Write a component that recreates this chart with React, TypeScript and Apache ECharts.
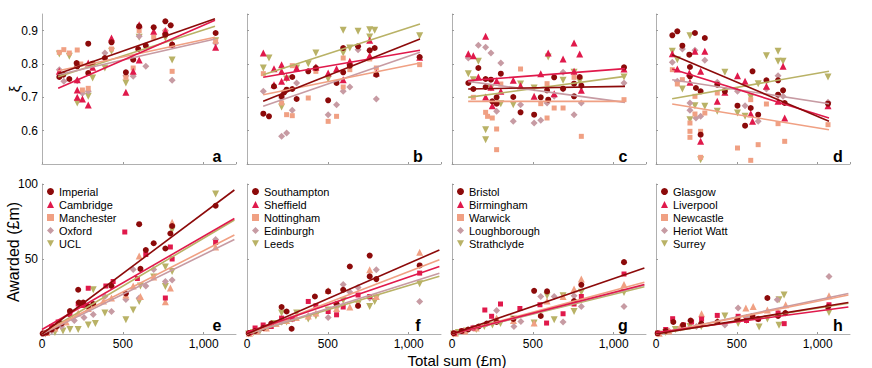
import React, { useEffect, useRef } from 'react';
import * as echarts from 'echarts';

type P = [number, number];

// ---- names (per column) ----
const UNIS_1 = ['Imperial', 'Cambridge', 'Manchester', 'Oxford', 'UCL'];
const UNIS_2 = ['Southampton', 'Sheffield', 'Nottingham', 'Edinburgh', 'Leeds'];
const UNIS_3 = ['Bristol', 'Birmingham', 'Warwick', 'Loughborough', 'Strathclyde'];
const UNIS_4 = ['Glasgow', 'Liverpool', 'Newcastle', 'Heriot Watt', 'Surrey'];

const COLORS = ['#8c0a0a', '#e0194b', '#f0a083', '#c79ba3', '#b9b266'];
const PANEL_LETTERS = ['a', 'b', 'c', 'd', 'e', 'f', 'g', 'h'];
const X_TICKS = [0, 500, 1000];

// ---- top row: xi vs total sum ----
const XI_A: P[][] = [
  [[107,0.761],[132,0.768],[169,0.755],[214,0.803],[218,0.793],[286,0.861],[286,0.773],[313,0.801],[389,0.818],[430,0.865],[519,0.775],[564,0.813],[595,0.845],[601,0.913],[642,0.855],[691,0.91],[763,0.928],[763,0.888],[796,0.916],[805,0.858],[1074,0.893]],
  [[107,0.778],[218,0.753],[218,0.722],[218,0.70],[250,0.695],[286,0.677],[286,0.803],[313,0.79],[430,0.878],[519,0.715],[564,0.778],[601,0.918],[601,0.812],[691,0.898],[763,0.90],[805,0.86],[1074,0.85]],
  [[107,0.835],[135,0.843],[169,0.833],[218,0.842],[240,0.80],[250,0.722],[286,0.727],[313,0.80],[430,0.845],[519,0.76],[564,0.788],[601,0.90],[691,0.88],[763,0.898],[805,0.778],[1074,0.868]],
  [[107,0.783],[135,0.748],[218,0.75],[250,0.712],[286,0.718],[389,0.833],[519,0.765],[564,0.763],[601,0.883],[642,0.793],[763,0.90],[805,0.751],[1074,0.863]],
  [[107,0.83],[169,0.823],[218,0.683],[286,0.703],[313,0.758],[389,0.788],[430,0.838],[519,0.743],[601,0.88],[763,0.878],[805,0.812],[1074,0.87]],
];
const XI_B: P[][] = [
  [[101,0.651],[136,0.643],[167,0.733],[214,0.703],[230,0.715],[245,0.723],[280,0.761],[280,0.725],[307,0.695],[379,0.778],[426,0.788],[502,0.691],[554,0.743],[595,0.775],[595,0.848],[636,0.795],[687,0.853],[759,0.841],[790,0.848],[800,0.768],[1068,0.821]],
  [[101,0.833],[167,0.786],[167,0.738],[214,0.798],[214,0.778],[214,0.748],[245,0.76],[307,0.788],[426,0.79],[502,0.773],[554,0.786],[595,0.753],[636,0.808],[759,0.871],[759,0.825],[800,0.773],[1068,0.82]],
  [[101,0.771],[214,0.683],[245,0.648],[280,0.645],[280,0.795],[379,0.698],[426,0.778],[502,0.628],[554,0.643],[595,0.818],[595,0.731],[636,0.783],[759,0.815],[800,0.788],[1068,0.798]],
  [[101,0.718],[214,0.583],[245,0.593],[280,0.661],[214,0.698],[307,0.743],[426,0.79],[502,0.648],[554,0.678],[595,0.718],[636,0.731],[687,0.843],[800,0.695],[1068,0.82]],
  [[101,0.788],[136,0.818],[214,0.671],[245,0.755],[307,0.788],[379,0.801],[426,0.833],[502,0.755],[595,0.901],[595,0.833],[636,0.848],[687,0.898],[759,0.903],[759,0.881],[790,0.901],[1068,0.885]],
];
const XI_C: P[][] = [
  [[101,0.743],[132,0.725],[163,0.788],[208,0.755],[208,0.731],[241,0.753],[249,0.688],[276,0.681],[276,0.70],[302,0.771],[379,0.701],[424,0.655],[508,0.648],[549,0.70],[588,0.721],[595,0.693],[632,0.76],[687,0.726],[755,0.741],[755,0.703],[790,0.761],[800,0.735],[1064,0.79]],
  [[101,0.831],[132,0.825],[163,0.761],[208,0.883],[208,0.701],[241,0.73],[249,0.675],[276,0.75],[302,0.718],[379,0.751],[424,0.735],[508,0.703],[549,0.771],[595,0.833],[632,0.711],[687,0.815],[755,0.863],[755,0.778],[790,0.83],[800,0.721],[1064,0.785]],
  [[132,0.70],[208,0.655],[220,0.643],[249,0.638],[276,0.543],[276,0.605],[302,0.74],[424,0.785],[549,0.681],[588,0.741],[588,0.638],[632,0.668],[687,0.668],[755,0.76],[800,0.583],[1064,0.693]],
  [[101,0.818],[163,0.856],[208,0.85],[241,0.833],[276,0.658],[302,0.803],[379,0.628],[424,0.678],[508,0.623],[549,0.631],[588,0.683],[632,0.703],[687,0.775],[687,0.725],[755,0.648],[800,0.683],[1064,0.743]],
  [[101,0.771],[132,0.753],[163,0.808],[208,0.603],[208,0.573],[241,0.728],[302,0.681],[379,0.678],[424,0.74],[508,0.728],[595,0.821],[687,0.751],[755,0.775],[790,0.748],[1064,0.761]],
];
const XI_D: P[][] = [
  [[101,0.886],[132,0.898],[163,0.855],[206,0.828],[210,0.791],[210,0.763],[241,0.893],[247,0.728],[276,0.718],[302,0.878],[276,0.588],[379,0.738],[426,0.718],[504,0.675],[551,0.615],[586,0.668],[597,0.778],[632,0.648],[683,0.751],[755,0.751],[755,0.708],[786,0.721],[796,0.683],[1064,0.681]],
  [[101,0.831],[132,0.785],[206,0.773],[210,0.745],[241,0.838],[276,0.778],[276,0.568],[302,0.838],[379,0.688],[426,0.715],[504,0.765],[551,0.748],[586,0.651],[597,0.628],[683,0.733],[755,0.688],[786,0.793],[796,0.638],[1064,0.675]],
  [[101,0.783],[132,0.74],[163,0.753],[210,0.623],[210,0.598],[210,0.58],[241,0.65],[241,0.703],[276,0.598],[276,0.52],[302,0.653],[379,0.713],[426,0.723],[504,0.548],[586,0.693],[586,0.511],[632,0.558],[683,0.68],[755,0.621],[796,0.568],[1064,0.618]],
  [[101,0.805],[132,0.748],[163,0.845],[210,0.683],[210,0.661],[241,0.841],[247,0.638],[276,0.643],[302,0.811],[379,0.745],[504,0.718],[551,0.675],[632,0.628],[683,0.725],[755,0.765],[786,0.703],[1064,0.685]],
  [[101,0.838],[132,0.813],[163,0.725],[210,0.885],[210,0.633],[241,0.675],[276,0.513],[302,0.673],[379,0.658],[426,0.775],[504,0.653],[551,0.643],[586,0.70],[632,0.741],[683,0.825],[755,0.838],[755,0.808],[786,0.808],[1064,0.761]],
];

// fitted lines, top row: [y at FIT_XI_X[0], y at FIT_XI_X[1]]
const FIT_XI_X = [100, 1070];
const FIT_XI_A = [[0.771, 0.936], [0.727, 0.931], [0.78, 0.88], [0.768, 0.875], [0.762, 0.913]];
const FIT_XI_B = [[0.688, 0.875], [0.76, 0.841], [0.708, 0.803], [0.673, 0.835], [0.768, 0.92]];
const FIT_XI_C = [[0.725, 0.733], [0.75, 0.786], [0.688, 0.688], [0.748, 0.685], [0.70, 0.763]];
const FIT_XI_D = [[0.828, 0.628], [0.785, 0.638], [0.68, 0.603], [0.753, 0.681], [0.696, 0.778]];

// ---- bottom row: awarded vs total sum ----
const AW_E: P[][] = [
  [[4,0.3],[29,1],[60,3],[90,5],[121,7],[173,15.3],[224,29.5],[228,21],[255,21],[286,18.4],[317,20],[430,32],[519,27],[601,73.2],[609,43.4],[642,56],[691,60.5],[763,57],[794,67],[805,72],[1074,85.5]],
  [[10,0.5],[60,5],[100,8],[173,13],[224,20],[255,19],[286,30.5],[395,32],[440,35],[512,68],[590,37],[642,53],[763,24],[794,58],[805,50],[1074,61]],
  [[30,1],[80,4],[150,8],[224,14],[286,17],[380,22],[430,24],[519,26],[564,32],[601,52],[609,25],[691,38],[763,21.5],[794,30.6],[805,74.5],[1074,58]],
  [[20,0.5],[60,2],[120,5],[200,9],[260,11],[317,13],[389,25],[430,15],[519,23],[564,43],[601,24],[642,32],[691,43],[763,35],[805,36],[1074,63]],
  [[20,0],[80,1],[130,2],[173,3],[224,3],[286,6],[317,29.5],[330,7],[389,14],[519,9.5],[564,16],[601,21.7],[609,32],[691,38],[763,31.7],[763,44.6],[805,69.4],[805,41.7],[1074,93.3]],
];
const AW_F: P[][] = [
  [[10,0.5],[50,2],[100,4],[150,7],[214,18],[245,15],[276,3.5],[420,25],[502,28.4],[554,20],[595,29.5],[636,45],[687,18.8],[759,52.3],[759,38.4],[800,36.6],[1068,45.7]],
  [[20,1],[50,4],[100,6],[150,5],[214,10.6],[280,10],[379,21.7],[426,18.8],[502,15],[554,12.8],[595,18],[687,26],[759,25],[1068,40.6]],
  [[15,0.5],[60,2],[120,4],[180,7],[245,9],[305,11],[379,12],[426,14],[502,29],[554,17],[636,18],[687,20],[759,42.8],[800,25],[1068,54.5]],
  [[20,0.5],[70,2],[120,4],[214,8],[280,10],[380,12],[502,11],[554,18],[595,33],[636,28],[687,31],[759,24],[800,42.8],[1068,21.7]],
  [[10,0],[40,1],[80,2],[130,4],[167,7],[214,14],[245,8],[307,14],[379,10],[426,12],[502,16],[554,18],[595,22.4],[687,20],[759,18.4],[790,21.7],[800,24],[1068,33.5]],
];
const AW_G: P[][] = [
  [[10,0.5],[60,2],[100,3],[165,5],[215,7],[276,8],[380,10],[508,28.8],[549,12],[588,28.4],[755,22],[800,32.8],[1064,47.9]],
  [[15,0.5],[60,2],[130,4],[203,16],[245,11.8],[300,20],[420,17],[544,19.5],[585,7.3],[687,13.5],[755,20],[800,25],[1064,40]],
  [[20,0.5],[80,2],[150,4],[276,10.6],[380,9],[508,7.3],[588,22],[687,25],[755,30],[800,36.6],[1064,33]],
  [[20,0.5],[70,2],[130,4],[276,15.7],[383,5],[426,8.4],[549,25],[632,25],[687,8],[755,25.5],[800,18.4],[1064,18.4]],
  [[10,0],[40,1],[90,2],[150,3],[200,5],[250,6],[300,7],[380,10],[508,7.3],[588,25.5],[632,9.5],[687,25.5],[755,15],[800,27.9],[1064,27.7]],
];
const AW_H: P[][] = [
  [[10,0.5],[60,2],[107,8],[167,6],[214,9],[280,7],[380,8],[502,10],[597,12],[632,10],[689,24],[755,12],[800,14],[1064,18]],
  [[10,0.5],[60,3],[103,10.2],[170,6],[220,8],[282,10],[379,12.4],[508,11.8],[560,9],[632,10],[755,14],[793,6.9],[1070,19.5]],
  [[20,0.5],[80,2],[150,5],[282,13.5],[380,9],[505,10],[556,17.3],[601,18.4],[689,16],[755,14],[802,19.5],[1070,25.5]],
  [[20,0.5],[80,2],[150,4],[250,5],[426,6],[508,17.3],[560,11],[632,10],[750,22.8],[800,14],[1070,38.4]],
  [[15,0],[60,1],[120,3],[210,5],[280,5],[426,12],[508,7],[560,9],[638,4.7],[689,10],[761,22.8],[761,5.8],[792,26],[1070,14.4]],
];

// fitted lines, bottom row: [y at FIT_AW_X[0], y at FIT_AW_X[1]]
const FIT_AW_X = [0, 1190];
const FIT_AW_E = [[0, 96], [3, 77], [0.5, 66], [0, 63], [0, 76]];
const FIT_AW_F = [[0, 56], [1, 45], [0, 49.5], [0, 40.5], [0, 38.5]];
const FIT_AW_G = [[0, 44], [0, 33], [0, 34.5], [0, 32.5], [0, 31.5]];
const FIT_AW_H = [[0, 21], [1, 18], [0, 26], [0, 27], [0, 20.5]];

const FONT = 'Liberation Sans, Arial, Helvetica, sans-serif';
const INV_TRI = 'path://M0,0L10,0L5,9Z';
const SYMBOLS_TOP = ['circle', 'triangle', 'rect', 'diamond', INV_TRI];
const SYMBOLS_BOT = ['circle', 'rect', 'triangle', 'diamond', INV_TRI];
const SIZES_TOP: any[] = [6, 7, 5, 7, 7];
const SIZES_BOT: any[] = [6, 5, 7, 7, 7];
const LEGEND_ICONS = ['circle', 'triangle', 'rect', 'diamond', INV_TRI];

export default function App() {
  const ref = useRef<HTMLDivElement>(null);

  useEffect(() => {
    if (!ref.current) return;
    const chart = echarts.init(ref.current, null, { renderer: 'svg' });

    const lefts = [42, 247, 452, 656];
    const W = 194;
    const H = 150;
    const tops = [14, 184];
    const names = [UNIS_1, UNIS_2, UNIS_3, UNIS_4];
    const xiData = [XI_A, XI_B, XI_C, XI_D];
    const xiFit = [FIT_XI_A, FIT_XI_B, FIT_XI_C, FIT_XI_D];
    const awData = [AW_E, AW_F, AW_G, AW_H];
    const awFit = [FIT_AW_E, FIT_AW_F, FIT_AW_G, FIT_AW_H];

    const grid: any[] = [];
    const xAxis: any[] = [];
    const yAxis: any[] = [];
    const series: any[] = [];
    const legend: any[] = [];
    const graphic: any[] = [];

    const axisLine = { show: true, lineStyle: { color: '#b0b0b0', width: 1 } };
    const axisTick = { show: true, inside: true, length: 2, lineStyle: { color: '#999' } };

    for (let i = 0; i < 8; i++) {
      const row = i < 4 ? 0 : 1;
      const col = i % 4;
      grid.push({ left: lefts[col], top: tops[row], width: W, height: H, containLabel: false });
      xAxis.push({
        type: 'value', gridIndex: i, min: 0, max: 1200, interval: 500,
        axisLine, axisTick, splitLine: { show: false },
        axisLabel: {
          show: row === 1, fontSize: 12, color: '#000', fontFamily: FONT, margin: 4,
          showMaxLabel: false,
          formatter: (v: number) => (X_TICKS.includes(v) ? v.toLocaleString('en-US') : ''),
        },
      });
      if (row === 0) {
        yAxis.push({
          type: 'value', gridIndex: i, min: 0.5, max: 0.95, interval: 0.1,
          axisLine, axisTick, splitLine: { show: false },
          axisLabel: {
            show: col === 0, fontSize: 12, color: '#000', fontFamily: FONT, margin: 4,
            showMinLabel: false, showMaxLabel: false,
            formatter: (v: number) => v.toFixed(1),
          },
        });
      } else {
        yAxis.push({
          type: 'value', gridIndex: i, min: 0, max: 100, interval: 50,
          axisLine, axisTick, splitLine: { show: false },
          axisLabel: {
            show: col === 0, fontSize: 12, color: '#000', fontFamily: FONT, margin: 4,
            showMinLabel: false,
          },
        });
      }

      const data = row === 0 ? xiData[col] : awData[col];
      const fit = row === 0 ? xiFit[col] : awFit[col];
      const fx = row === 0 ? FIT_XI_X : FIT_AW_X;
      const syms = row === 0 ? SYMBOLS_TOP : SYMBOLS_BOT;
      const sizes = row === 0 ? SIZES_TOP : SIZES_BOT;

      for (let k = 4; k >= 0; k--) {
        series.push({
          type: 'scatter', name: names[col][k], xAxisIndex: i, yAxisIndex: i,
          data: data[k], symbol: syms[k], symbolSize: sizes[k],
          itemStyle: { color: COLORS[k], opacity: 1 }, z: 2, silent: true,
        });
      }
      for (let k = 4; k >= 0; k--) {
        series.push({
          type: 'line', name: 'fit ' + names[col][k], xAxisIndex: i, yAxisIndex: i,
          data: [[fx[0], fit[k][0]], [fx[1], fit[k][1]]],
          showSymbol: false, symbol: 'none', silent: true,
          lineStyle: { color: COLORS[k], width: 1.6 }, z: 3,
        });
      }

      if (row === 1) {
        legend.push({
          orient: 'vertical', left: lefts[col] + 5, top: 186, padding: 0,
          itemGap: 2, itemWidth: 7, itemHeight: 7, selectedMode: false,
          textStyle: { fontSize: 11, color: '#000', fontFamily: FONT },
          data: names[col].map((n, k) => ({ name: n, icon: LEGEND_ICONS[k], itemStyle: { color: COLORS[k] } })),
        });
      }
    }

    const letterPos = [[217, 156], [418, 156], [623, 156], [838, 156], [217, 325], [418, 325], [623, 325], [838, 325]];
    PANEL_LETTERS.forEach((t, i) => {
      graphic.push({
        type: 'text', x: letterPos[i][0], y: letterPos[i][1], silent: true,
        style: { text: t, font: `bold 16px ${FONT}`, fill: '#000', textAlign: 'center', textVerticalAlign: 'middle' },
      });
    });
    graphic.push({
      type: 'text', x: 14, y: 89, rotation: Math.PI / 2, silent: true,
      style: { text: 'ξ', font: `15px ${FONT}`, fill: '#000', textAlign: 'center', textVerticalAlign: 'middle' },
    });
    graphic.push({
      type: 'text', x: 13, y: 252, rotation: Math.PI / 2, silent: true,
      style: { text: 'Awarded (£m)', font: `16px ${FONT}`, fill: '#000', textAlign: 'center', textVerticalAlign: 'middle' },
    });
    graphic.push({
      type: 'text', x: 457, y: 360, silent: true,
      style: { text: 'Total sum (£m)', font: `15px ${FONT}`, fill: '#000', textAlign: 'center', textVerticalAlign: 'middle' },
    });

    chart.setOption({
      animation: false,
      textStyle: { fontFamily: FONT },
      grid, xAxis, yAxis, series, legend, graphic,
    });

    return () => chart.dispose();
  }, []);

  return (
    <div
      ref={ref}
      style={{ position: 'absolute', left: 0, top: 0, width: 872, height: 368, background: '#fff' }}
    />
  );
}
